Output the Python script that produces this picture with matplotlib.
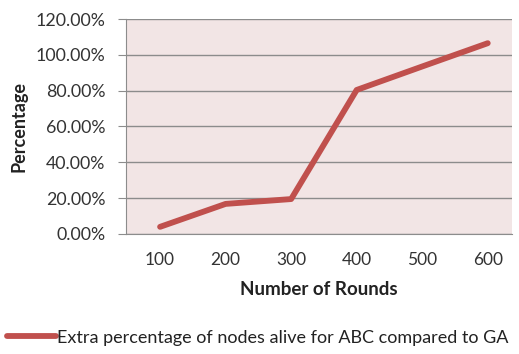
import matplotlib.pyplot as plt
from matplotlib.ticker import FuncFormatter

rounds = ['100', '200', '300', '400', '500', '600']
extra_alive = [0.04, 0.168, 0.195, 0.804, 0.935, 1.065]
y_ticks = [0.0, 0.2, 0.4, 0.6, 0.8, 1.0, 1.2]

plt.rcParams['font.family'] = ['Lato', 'DejaVu Sans']

fig = plt.figure(figsize=(5.19, 3.54), dpi=100)
ax = fig.add_axes([126 / 519, 1 - 234 / 354, (512 - 126) / 519, (234 - 19) / 354])
ax.set_facecolor('#f2e5e5')

x = list(range(len(rounds)))
line, = ax.plot(x, extra_alive, color='#c0504d', lw=4.2, solid_capstyle='round',
                solid_joinstyle='round', zorder=3)

ax.set_xlim(-0.52, 5.37)
ax.set_ylim(0, 1.2)
ax.set_yticks(y_ticks)
ax.yaxis.set_major_formatter(FuncFormatter(lambda v, p: f'{v * 100:.2f}%'))
ax.set_xticks(x)
ax.set_xticklabels(rounds)
ax.grid(axis='y', color='#8c8c8c', lw=1)
ax.set_axisbelow(True)

for s in ['top', 'right']:
    ax.spines[s].set_visible(False)
for s in ['left', 'bottom']:
    ax.spines[s].set_color('#8c8c8c')
ax.tick_params(axis='y', length=6, color='#8c8c8c', labelsize=12.8, pad=9, labelcolor='#333333')
ax.tick_params(axis='x', length=0, labelsize=12.5, pad=13, labelcolor='#333333')

ax.set_ylabel('Percentage', fontsize=13, fontweight='bold', color='#222222')
ax.yaxis.set_label_coords(-0.255, 0.5)
ax.set_xlabel('Number of Rounds', fontsize=13.5, fontweight='bold', labelpad=9, color='#222222')

fig.legend([line], ['Extra percentage of nodes alive for ABC compared to GA'],
           loc='lower left', bbox_to_anchor=(-0.018, -0.022), frameon=False,
           fontsize=13.0, handlelength=2.7, handletextpad=0.05, labelcolor='#222222')

fig.savefig('out.png', dpi=100)
